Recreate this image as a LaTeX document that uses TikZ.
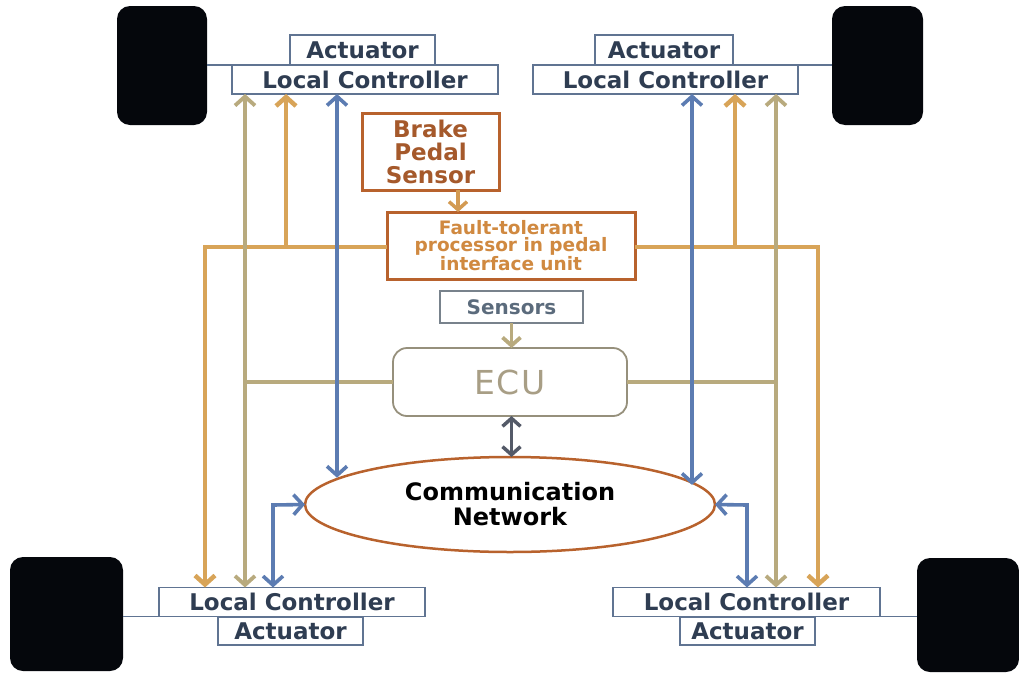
\documentclass[tikz,border=0pt]{standalone}
\usepackage{fontspec}
\setmainfont{DejaVu Sans}
\usetikzlibrary{arrows.meta,shapes.geometric}
\definecolor{cOrange}{RGB}{216,164,88}
\definecolor{cTan}{RGB}{184,170,126}
\definecolor{cBlue}{RGB}{92,124,178}
\definecolor{cDark}{RGB}{84,90,104}
\definecolor{cBrown}{RGB}{184,98,45}
\definecolor{cLCline}{RGB}{96,116,146}
\definecolor{cLCtext}{RGB}{47,61,82}
\definecolor{cBrakeText}{RGB}{165,89,43}
\definecolor{cFaultText}{RGB}{208,137,64}
\definecolor{cSensText}{RGB}{91,107,124}
\definecolor{cSensLine}{RGB}{120,130,140}
\definecolor{cECUline}{RGB}{150,144,124}
\definecolor{cECUtext}{RGB}{168,158,133}
\definecolor{cWheel}{RGB}{5,7,12}
\tikzset{
  wheel/.style={fill=cWheel, draw=none, rounded corners=13pt, inner sep=0pt, outer sep=0pt},
  lcbox/.style={draw=cLCline, line width=1.4pt, fill=white, inner sep=0pt, outer sep=0pt,
    minimum height=29pt, text=cLCtext, font=\fontsize{23}{23}\selectfont\bfseries},
  actbox/.style={lcbox, minimum height=30pt},
  brownbox/.style={draw=cBrown, line width=3pt, fill=white, inner sep=0pt, outer sep=0pt, align=center},
  wline/.style={draw=cLCline, line width=1.4pt},
  barb/.tip={Straight Barb[length=9pt,width=20pt]},
  oline/.style={draw=cOrange, line width=4.5pt},
  tline/.style={draw=cTan, line width=3.8pt},
  bline/.style={draw=cBlue, line width=3.6pt},
}
\begin{document}
\begin{tikzpicture}[x=1pt,y=-1pt]
\useasboundingbox (0,0) rectangle (1019,672);
% wheels
\node[wheel, minimum width=90pt, minimum height=119pt] (W1) at (162,65.5) {};
\node[wheel, minimum width=91pt, minimum height=119pt] (W2) at (877.5,65.5) {};
\node[wheel, minimum width=113pt, minimum height=114pt] (W3) at (66.5,614) {};
\node[wheel, minimum width=102pt, minimum height=114pt] (W4) at (968,615) {};
% actuators and local controllers
\node[actbox, minimum width=145pt] (A1) at (362.5,50) {Actuator};
\node[lcbox, minimum width=266pt] (L1) at (365,79.5) {Local Controller};
\node[actbox, minimum width=138pt] (A2) at (664,50) {Actuator};
\node[lcbox, minimum width=265pt] (L2) at (665.5,79.5) {Local Controller};
\node[actbox, minimum width=145pt, minimum height=28pt] (A3) at (290.5,631) {Actuator};
\node[lcbox, minimum width=266pt] (L3) at (292,602) {Local Controller};
\node[actbox, minimum width=135pt, minimum height=28pt] (A4) at (747.5,631) {Actuator};
\node[lcbox, minimum width=267pt] (L4) at (746.5,602) {Local Controller};
% central nodes
\node[brownbox, minimum width=137pt, minimum height=77pt, text=cBrakeText,
  font=\fontsize{23}{23}\selectfont\bfseries] (B) at (430.5,151.5) {Brake\\Pedal\\Sensor};
\node[brownbox, minimum width=248pt, minimum height=67pt, text=cFaultText,
  font=\fontsize{18.5}{17.5}\selectfont\bfseries] (F) at (511,245.5) {Fault-tolerant\\processor in pedal\\interface unit};
\node[draw=cSensLine, line width=1.4pt, inner sep=0pt, outer sep=0pt, minimum width=143pt, minimum height=32pt,
  text=cSensText, font=\fontsize{20}{20}\selectfont\bfseries] (S) at (511.5,307) {Sensors};
\node[draw=cECUline, line width=1.8pt, rounded corners=14pt, inner sep=0pt, outer sep=0pt, minimum width=234pt, minimum height=68pt,
  text=cECUtext, font=\fontsize{33}{33}\selectfont\addfontfeatures{LetterSpace=6}] (E) at (510,382) {ECU};
\node[ellipse, draw=cBrown, line width=2.5pt, fill=white, inner sep=0pt, outer sep=0pt, minimum width=410pt, minimum height=95pt,
  align=center, text=black, font=\fontsize{24}{25}\selectfont\bfseries] (N) at (510,504.5) {Communication\\Network};
% wheel links
\draw[wline] (L1.north west -| W1.east) -- (L1.north west);
\draw[wline] (L2.north east) -- (L2.north east -| W2.west);
\draw[wline] (L3.south west -| W3.east) -- (L3.south west);
\draw[wline] (L4.south east) -- (L4.south east -| W4.west);
% routing coordinates
\coordinate (oLo) at (205,247);
\coordinate (oLi) at (286,247);
\coordinate (tL) at (245,382);
\coordinate (bL) at (337,300);
\coordinate (bL2) at (273,505);
\coordinate (oRo) at (818,247);
\coordinate (oRi) at (735,247);
\coordinate (tR) at (776,382);
\coordinate (bR) at (692,300);
\coordinate (bR2) at (747,505);
\coordinate (bx) at (458,200);
% left side
\draw[oline, -barb] (F.west |- oLo) -- (oLo) -- (oLo |- L3.north);
\draw[oline, -barb] (oLi) -- (oLi |- L1.south);
\draw[tline, -barb] (E.west |- tL) -- (tL) -- (tL |- L3.north);
\draw[tline, -barb] (tL) -- (tL |- L1.south);
\draw[bline, barb-barb] (bL |- L1.south) -- (bL |- N.171.6);
\draw[bline, barb-barb] (bL2 |- L3.north) -- (bL2) -- (N.west);
% right side
\draw[oline, -barb] (F.east |- oRo) -- (oRo) -- (oRo |- L4.north);
\draw[oline, -barb] (oRi) -- (oRi |- L2.south);
\draw[tline, -barb] (E.east |- tR) -- (tR) -- (tR |- L4.north);
\draw[tline, -barb] (tR) -- (tR |- L2.south);
\draw[bline, barb-barb] (bR |- L2.south) -- (bR |- N.6.9);
\draw[bline, barb-barb] (bR2 |- L4.north) -- (bR2) -- (N.east);
% centre
\draw[draw=cOrange!85!cBrown, line width=3.5pt, -{Straight Barb[length=8pt,width=18pt]}] (B.south -| bx) -- (F.north -| bx);
\draw[tline, -{Straight Barb[length=8pt,width=18pt]}] (S.south) -- (S.south |- E.north);
\draw[draw=cDark, line width=3.5pt, {Straight Barb[length=8pt,width=18pt]}-{Straight Barb[length=8pt,width=18pt]}] (E.south -| S.south) -- (N.north -| S.south);
\end{tikzpicture}
\end{document}
